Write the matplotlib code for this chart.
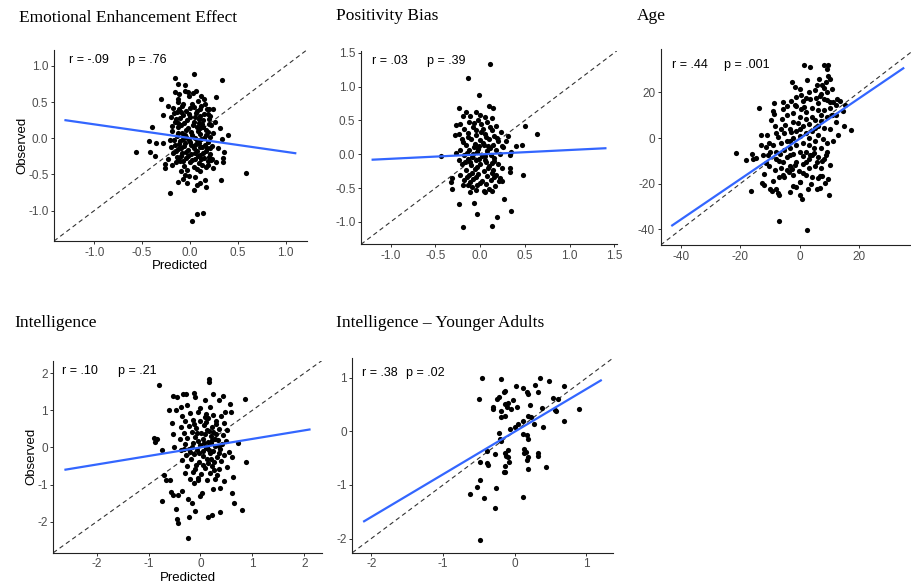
import numpy as np
import matplotlib.pyplot as plt

plt.rcParams['font.family'] = ['Liberation Sans', 'DejaVu Sans']
plt.rcParams['axes.unicode_minus'] = False

# predicted vs observed
eee_points = [
    (0.04, 0.89), (-0.16, 0.83), (0.34, 0.81), (-0.12, 0.75), (-0.05, 0.74),
    (-0.16, 0.64), (-0.05, 0.65), (-0.02, 0.64), (0.06, 0.65), (-0.11, 0.61), (-0.12, 0.55),
    (-0.30, 0.55), (0.15, 0.54), (0.27, 0.57), (-0.23, 0.45), (0.20, 0.40), (0.24, 0.40),
    (-0.28, 0.32), (-0.40, 0.16), (0.26, 0.23), (0.31, 0.14), (0.40, 0.04), (-0.43, -0.04),
    (-0.56, -0.19), (-0.42, -0.19), (-0.35, -0.07), (-0.36, -0.24), (-0.28, -0.06),
    (-0.26, -0.35), (-0.26, -0.41), (-0.23, -0.29), (-0.19, -0.37), (-0.12, -0.60),
    (-0.07, -0.56), (-0.03, -0.62), (0.05, -0.53), (0.04, -0.72), (0.07, -0.65), (0.11, -0.62),
    (0.16, -0.58), (0.17, -0.67), (0.24, -0.41), (0.27, -0.33), (0.35, -0.33), (0.35, -0.27),
    (0.36, -0.19), (0.32, -0.58), (0.59, -0.48), (-0.21, -0.75), (0.02, -1.14), (0.07, -1.05),
    (0.14, -1.03), (-0.09, -0.45), (-0.05, -0.51), (0.19, -0.37), (0.23, -0.29), (0.21, -0.14),
    (0.29, -0.13), (0.33, -0.01),
    (-0.18, 0.42), (-0.08, 0.45), (0.02, 0.48), (0.12, 0.44), (0.18, 0.40),
    (-0.14, 0.36), (-0.04, 0.38), (0.06, 0.35), (0.15, 0.33), (-0.20, 0.30),
    (-0.10, 0.28), (0.00, 0.30), (0.09, 0.27), (0.20, 0.26), (-0.16, 0.22),
    (-0.06, 0.21), (0.04, 0.23), (0.13, 0.20), (0.22, 0.18), (-0.12, 0.15),
    (-0.02, 0.14), (0.07, 0.16), (0.17, 0.12), (-0.19, 0.10), (-0.08, 0.08),
    (0.01, 0.09), (0.11, 0.06), (0.24, 0.07), (-0.14, 0.03), (-0.04, 0.02),
    (0.05, 0.01), (0.15, 0.00), (-0.21, -0.02), (-0.10, -0.04), (0.00, -0.05),
    (0.09, -0.06), (0.19, -0.05), (-0.16, -0.09), (-0.06, -0.10), (0.03, -0.11),
    (0.13, -0.12), (0.23, -0.10), (-0.12, -0.15), (-0.02, -0.16), (0.07, -0.17),
    (0.17, -0.18), (-0.18, -0.20), (-0.08, -0.21), (0.01, -0.22), (0.11, -0.23),
    (0.21, -0.22), (-0.14, -0.26), (-0.04, -0.27), (0.05, -0.28), (0.15, -0.27),
    (-0.10, -0.32), (0.00, -0.33), (0.09, -0.34), (0.19, -0.31), (-0.06, -0.38),
    (0.04, -0.39), (0.13, -0.37), (-0.13, 0.50), (0.08, 0.52), (-0.01, 0.58),
    (0.10, 0.40), (-0.03, 0.25), (0.14, 0.25), (-0.09, 0.18), (0.03, 0.18),
    (0.08, 0.10), (-0.05, 0.05), (0.12, -0.01), (-0.01, -0.02), (0.06, -0.08),
    (-0.09, -0.14), (0.04, -0.14), (0.14, -0.21), (-0.02, -0.24), (0.08, -0.25),
    (-0.07, 0.32), (0.17, 0.05), (-0.12, -0.28), (0.00, 0.42), (0.10, 0.14),
    (-0.17, 0.35), (-0.11, 0.40), (0.04, 0.43), (0.16, 0.47), (-0.07, 0.48),
    (0.19, 0.34), (-0.15, 0.27), (0.05, 0.29), (0.11, 0.31), (-0.01, 0.34),
    (-0.19, 0.17), (-0.04, 0.12), (0.20, 0.20), (0.14, 0.16), (-0.13, 0.07),
    (0.02, 0.05), (0.21, 0.02), (-0.17, -0.03), (0.07, -0.02), (-0.05, -0.06),
    (0.16, -0.09), (-0.20, -0.12), (0.10, -0.12), (-0.04, -0.19), (0.18, -0.14),
    (-0.15, -0.17), (0.05, -0.20), (-0.09, -0.24), (0.12, -0.29), (0.02, -0.30),
    (-0.15, -0.33), (0.07, -0.42), (-0.03, -0.44), (0.17, -0.40), (0.22, -0.30),
    (0.03, 0.62), (0.12, 0.58), (-0.09, 0.36), (0.07, 0.38), (0.21, 0.31),
    (-0.13, 0.21), (0.09, 0.21), (-0.07, -0.01), (0.19, 0.09), (-0.11, -0.08),
    (0.01, -0.09), (0.20, -0.26), (-0.07, -0.31), (0.10, -0.45), (-0.01, -0.52),
]

pos_points = [
    (0.11, 1.34), (-0.13, 1.13), (-0.01, 0.87), (0.10, 0.72), (0.14, 0.68),
    (-0.24, 0.68), (-0.16, 0.63), (-0.05, 0.63), (0.00, 0.58), (0.06, 0.55), (0.13, 0.54),
    (-0.19, 0.56), (-0.28, 0.29), (-0.27, 0.43), (0.31, 0.27), (0.50, 0.42), (0.64, 0.30),
    (0.40, 0.12), (0.47, 0.14), (0.33, -0.01), (0.35, 0.03), (0.26, 0.11), (0.29, 0.20),
    (-0.44, -0.03), (-0.27, 0.02), (0.48, -0.30), (0.33, -0.21), (0.33, -0.26),
    (-0.31, -0.35), (-0.33, -0.41), (-0.31, -0.51), (-0.24, -0.73), (-0.07, -0.72),
    (0.27, -0.66), (0.34, -0.84), (-0.03, -0.88), (0.19, -0.92), (-0.19, -1.08), (0.13, -1.06),
    (-0.11, -0.56), (0.04, -0.55), (0.10, -0.51), (0.13, -0.54), (-0.19, -0.45), (-0.09, -0.49),
    (0.22, -0.35), (0.25, -0.40),
    (-0.22, 0.45), (-0.12, 0.48), (-0.02, 0.50), (0.08, 0.47), (0.18, 0.42),
    (-0.18, 0.38), (-0.08, 0.40), (0.03, 0.38), (0.13, 0.36), (0.23, 0.33),
    (-0.24, 0.30), (-0.14, 0.31), (-0.04, 0.29), (0.06, 0.30), (0.16, 0.27),
    (-0.20, 0.22), (-0.10, 0.23), (0.00, 0.21), (0.10, 0.22), (0.20, 0.19),
    (-0.16, 0.14), (-0.06, 0.15), (0.04, 0.13), (0.14, 0.14), (0.24, 0.12),
    (-0.22, 0.07), (-0.12, 0.06), (-0.02, 0.08), (0.08, 0.05), (0.18, 0.06),
    (-0.18, -0.01), (-0.08, 0.00), (0.02, -0.02), (0.12, -0.01), (0.22, 0.01),
    (-0.24, -0.08), (-0.14, -0.07), (-0.04, -0.09), (0.06, -0.08), (0.16, -0.10),
    (-0.20, -0.15), (-0.10, -0.16), (0.00, -0.14), (0.10, -0.17), (0.20, -0.15),
    (-0.16, -0.23), (-0.06, -0.22), (0.04, -0.24), (0.14, -0.23), (0.24, -0.21),
    (-0.22, -0.30), (-0.12, -0.31), (-0.02, -0.29), (0.08, -0.32), (0.18, -0.30),
    (-0.18, -0.38), (-0.08, -0.37), (0.02, -0.39), (0.12, -0.38), (-0.13, -0.45),
    (-0.03, -0.46), (0.07, -0.44), (0.17, -0.47), (-0.05, -0.53), (0.05, -0.56),
    (-0.11, 0.56), (0.01, 0.44), (-0.15, 0.02), (0.09, 0.12), (-0.03, 0.03),
    (0.05, -0.03), (-0.09, -0.04), (0.11, 0.09), (-0.01, -0.07), (0.03, 0.16),
    (-0.07, 0.11), (0.15, -0.05), (-0.11, -0.11), (0.07, -0.12), (-0.03, -0.19),
    (0.13, -0.28), (-0.09, -0.27), (0.01, 0.33), (-0.05, 0.36), (0.19, 0.24),
    (-0.19, 0.18), (0.09, -0.20), (-0.15, -0.34), (0.21, -0.39), (0.00, -0.42),
    (-0.07, 0.46), (0.11, 0.41), (-0.13, 0.26), (0.07, 0.26), (-0.01, 0.12),
    (-0.17, -0.11), (0.13, -0.13), (-0.05, -0.33), (0.15, -0.34), (-0.11, -0.41),
]

age_points = [
    (1.4, 31.9), (3.4, 31.0), (8.1, 31.9), (9.2, 30.4), (9.7, 31.9),
    (-2.7, 24.6), (2.5, 25.4), (6.5, 25.7), (7.4, 23.4), (5.9, 23.1),
    (9.7, 27.2), (10.1, 25.7), (9.0, 24.6), (0.2, 21.6), (-13.7, 13.1),
    (-8.6, 15.2), (-9.0, 12.0), (-8.8, 10.7), (-5.6, 15.8), (-5.6, 12.9),
    (-2.9, 16.4), (-1.6, 14.3), (0.5, 18.7), (2.0, 17.6), (3.4, 17.3), (5.6, 17.6), (6.8, 18.4),
    (9.2, 16.7), (10.1, 15.8), (11.3, 15.8), (12.4, 14.3), (13.7, 16.1), (15.3, 14.3),
    (12.6, 17.3), (11.0, 9.9), (12.4, 10.2), (15.0, 5.2), (17.2, 3.7), (14.5, 12.0), (12.8, 1.2),
    (-21.4, -6.4), (-18.0, -9.6), (-16.2, -7.0), (-15.8, -9.1), (-14.6, -8.8),
    (-13.1, 1.2), (-13.1, -3.2), (-12.4, -7.6), (-11.3, -4.1), (-10.8, -7.6),
    (-16.4, -23.4), (-12.8, -19.9), (-11.9, -20.5), (-9.9, -22.2), (-9.2, -23.1),
    (-7.9, -22.2), (-7.4, -24.0), (-6.8, -25.1), (-9.0, -19.0), (-7.0, -17.3), (-5.6, -16.4),
    (-3.4, -23.7), (-2.3, -21.1), (0.0, -25.1), (0.7, -26.9), (-1.1, -21.6), (0.2, -19.3),
    (-3.6, -14.9), (-2.7, -13.5), (-1.6, -12.0), (2.7, -22.5), (5.9, -22.2), (6.8, -21.9),
    (6.3, -17.5), (6.8, -16.7), (7.7, -16.7), (9.7, -18.1), (9.9, -25.1),
    (-7.0, -36.2), (2.5, -40.3),
    (5.0, -6.4), (5.9, -10.5), (7.4, -10.2), (9.0, -7.6), (10.1, -12.0),
    (3.4, -7.6), (2.3, -10.5), (-10.1, -6.1), (-7.9, -9.1), (-5.6, -10.5), (-3.4, -7.6),
    (-8.2, 5.3), (-6.1, 8.4), (-4.3, 10.2), (-2.2, 7.1), (0.3, 9.4), (2.1, 11.3),
    (4.2, 13.1), (6.3, 15.2), (8.1, 12.4), (-7.2, 0.3), (-5.1, 2.2), (-3.3, 4.1),
    (-1.2, 3.2), (1.1, 5.3), (3.2, 6.2), (5.3, 8.1), (7.1, 7.3), (9.2, 9.1),
    (-9.1, -3.2), (-6.2, -2.1), (-4.1, -1.3), (-2.3, 0.2), (0.2, 1.1), (2.2, 2.3),
    (4.1, 3.2), (6.2, 1.4), (8.3, 4.2), (-8.1, -6.3), (-5.2, -5.1), (-3.1, -4.2),
    (-1.3, -3.1), (1.2, -2.2), (3.3, -3.1), (5.1, -1.2), (7.2, -4.3), (9.1, -2.2),
    (-7.1, -10.2), (-4.2, -8.3), (-2.1, -7.2), (0.1, -6.1), (2.3, -6.2), (4.2, -7.3),
    (6.1, -8.2), (8.2, -9.1), (-6.3, -13.2), (-3.2, -12.1), (-1.1, -10.3), (1.3, -11.2),
    (3.1, -13.3), (5.2, -12.2), (7.3, -13.1), (-5.1, -17.2), (-2.2, -16.1), (1.1, -15.3),
    (4.3, -17.1), (-1.2, 14.1), (1.2, 16.2), (3.3, 20.1), (5.1, 21.2), (7.2, 19.3),
    (9.3, 20.2), (8.1, 17.1), (10.2, 13.3), (11.1, 10.2), (12.2, 7.1), (6.1, 5.2),
    (10.3, 4.1), (11.2, -1.1), (9.3, -6.2), (-10.2, -12.1), (-8.3, -14.2), (0.1, -19.2),
    (2.2, -16.3), (-4.1, 14.2), (-6.2, 4.1), (-8.1, 2.2), (-11.1, 1.3), (-10.2, -2.1),
    (-1.1, 18.2), (2.1, 8.2), (0.2, 4.1), (-3.2, -1.1), (3.1, 0.2), (5.2, 4.3),
    (7.1, 10.2), (-2.1, 11.1), (4.2, 9.3), (6.2, 12.1), (8.2, 22.1), (-4.2, -14.1),
    (1.2, -8.1), (3.2, -9.2), (-0.5, 6.5), (1.5, 13.5), (-2.8, 2.6), (4.8, -4.5),
    (-11.5, -11.0), (-9.6, 7.8), (-6.6, -6.8), (-0.3, -14.5), (3.8, -20.2), (7.8, -0.6),
    (-1.7, 22.4), (10.9, 21.5), (-12.0, -15.6), (8.6, -19.8), (-4.8, 5.9), (0.6, 12.8),
]

iq_points = [
    (0.16, 1.84), (0.17, 1.75), (-0.79, 1.68), (-0.53, 1.39), (-0.45, 1.36),
    (-0.33, 1.43), (-0.27, 1.45), (-0.13, 1.46), (-0.11, 1.36), (0.08, 1.29),
    (0.24, 1.43), (0.43, 1.39), (0.35, 1.29), (0.85, 1.30), (-0.61, 1.00),
    (-0.47, 1.02), (-0.38, 1.10), (-0.55, 0.66), (0.56, 1.18), (0.58, 0.95),
    (-0.90, 0.25), (-0.88, 0.16), (-0.83, 0.23), (-0.75, -0.07), (-0.52, 0.37),
    (-0.51, 0.02), (0.88, -0.39), (0.72, 0.12), (0.61, -0.27), (0.63, -0.79),
    (-0.71, -0.73), (-0.67, -0.88), (-0.58, -0.89), (-0.57, -1.20), (-0.52, -1.29),
    (-0.43, -1.27), (-0.35, -1.16), (-0.74, -1.45), (-0.24, -1.38), (-0.17, -1.50),
    (-0.47, -1.66), (-0.46, -1.93), (-0.43, -2.04), (-0.24, -2.45), (-0.22, -1.88),
    (-0.11, -1.70), (0.15, -1.86), (0.22, -1.81), (0.38, -1.75), (0.64, -1.50),
    (0.80, -1.68), (0.60, -1.23), (0.37, -1.09), (0.25, -1.13), (-0.01, -1.32),
    (0.03, -1.22), (-0.12, -0.97), (-0.04, -0.88),
    (-0.35, 0.85), (-0.20, 0.92), (-0.05, 0.95), (0.10, 0.90), (0.25, 0.88), (0.40, 0.84),
    (-0.30, 0.70), (-0.15, 0.75), (0.00, 0.72), (0.15, 0.78), (0.30, 0.70), (0.45, 0.66),
    (-0.38, 0.55), (-0.22, 0.58), (-0.08, 0.52), (0.07, 0.60), (0.22, 0.55), (0.36, 0.50),
    (0.52, 0.48), (-0.32, 0.38), (-0.16, 0.42), (0.02, 0.40), (0.16, 0.45), (0.30, 0.36),
    (0.44, 0.33), (-0.40, 0.22), (-0.25, 0.25), (-0.10, 0.28), (0.05, 0.22), (0.20, 0.30),
    (0.34, 0.20), (0.50, 0.18), (-0.30, 0.08), (-0.14, 0.12), (0.00, 0.06), (0.14, 0.15),
    (0.28, 0.05), (0.42, 0.08), (-0.38, -0.06), (-0.22, -0.04), (-0.06, -0.08), (0.10, -0.02),
    (0.24, -0.10), (0.38, -0.05), (0.55, -0.12), (-0.28, -0.20), (-0.12, -0.18), (0.04, -0.22),
    (0.18, -0.16), (0.32, -0.25), (0.46, -0.20), (-0.35, -0.35), (-0.18, -0.32), (-0.02, -0.38),
    (0.12, -0.30), (0.26, -0.40), (0.40, -0.36), (-0.25, -0.50), (-0.08, -0.48), (0.08, -0.55),
    (0.22, -0.50), (0.36, -0.58), (0.52, -0.52), (-0.30, -0.68), (-0.14, -0.65), (0.02, -0.72),
    (0.18, -0.68), (0.32, -0.75), (-0.20, -0.85), (-0.04, -0.82), (0.12, -0.88), (0.28, -0.85),
    (0.45, -0.90), (0.08, 0.35), (0.12, 0.48), (0.20, 0.12), (-0.04, 0.18), (0.25, 0.42),
    (0.05, -0.10), (-0.16, 0.02), (0.15, -0.42), (-0.10, -0.58), (0.35, -0.15), (0.00, 1.05),
    (0.18, 1.10), (-0.25, 1.15), (0.48, 0.95), (0.28, 0.22), (0.10, 0.68), (-0.06, 0.38),
    (0.16, -0.06), (0.30, 0.62),
    (0.06, 0.12), (0.22, 0.20), (0.12, 0.02), (-0.02, -0.16), (0.20, -0.30), (0.08, 0.82),
    (-0.12, 0.62), (0.36, 0.05), (-0.20, -0.12), (0.04, -0.46), (0.26, -0.62), (-0.32, -0.05),
]

iq_young_points = [
    (-0.45, 1.00), (-0.19, 0.98), (-0.50, 0.61), (0.02, 0.84), (0.11, 0.82),
    (0.28, 0.87), (0.35, 0.99), (0.48, 0.94), (0.68, 0.85), (-0.14, 0.75),
    (-0.15, 0.74), (-0.22, 0.64), (-0.25, 0.61), (-0.30, 0.45), (-0.31, 0.41),
    (-0.19, 0.39), (-0.13, 0.51), (-0.11, 0.45), (-0.09, 0.54), (-0.02, 0.59),
    (0.03, 0.46), (-0.05, 0.42), (0.17, 0.73), (0.19, 0.70), (0.21, 0.50),
    (0.33, 0.74), (0.38, 0.44), (0.54, 0.63), (0.61, 0.60), (0.56, 0.40),
    (0.58, 0.38), (0.90, 0.41), (0.68, 0.19), (0.27, 0.14), (0.40, 0.09),
    (0.19, 0.28), (0.23, 0.27), (0.11, 0.20), (-0.19, 0.27), (-0.14, 0.28),
    (-0.07, 0.05), (0.01, 0.08), (0.04, 0.13), (0.12, -0.04), (0.17, -0.06),
    (0.19, -0.14), (-0.22, -0.03), (-0.20, -0.14), (-0.27, -0.42), (-0.38, -0.36),
    (-0.38, -0.59), (-0.37, -0.62), (-0.48, -0.58), (-0.14, -0.41), (-0.12, -0.45),
    (-0.09, -0.48), (-0.13, -0.65), (-0.15, -0.75), (-0.13, -0.76), (-0.09, -0.34),
    (-0.08, -0.57), (0.13, -0.32), (0.13, -0.40), (0.16, -0.39), (0.18, -0.48),
    (0.17, -0.54), (0.19, -0.70), (0.32, -0.41), (0.33, -0.45), (0.44, -0.67),
    (-0.63, -1.16), (-0.52, -1.03), (-0.48, -0.91), (-0.43, -1.24), (-0.26, -1.06),
    (-0.27, -1.43), (0.12, -1.22), (-0.49, -2.03), (-0.19, -0.17),
]

panel_points = [eee_points, pos_points, age_points, iq_points, iq_young_points]
panel_titles = ['Emotional Enhancement Effect', 'Positivity Bias', 'Age',
                'Intelligence', 'Intelligence \u2013 Younger Adults']
panel_r = ['r = -.09', 'r = .03', 'r = .44', 'r = .10', 'r = .38']
panel_p = ['p = .76', 'p = .39', 'p = .001', 'p = .21', 'p = .02']
fit_slope = [-0.19, 0.065, 0.883, 0.23, 0.797]
fit_intercept = [0.003, -0.002, -0.34, 0.0, -0.004]
scale_lims = [(-1.3, 1.1), (-1.2, 1.4), (-43, 35), (-2.6, 2.1), (-2.1, 1.2)]
panel_ticks = [[-1.0, -0.5, 0.0, 0.5, 1.0], [-1.0, -0.5, 0.0, 0.5, 1.0, 1.5],
               [-40, -20, 0, 20], [-2, -1, 0, 1, 2], [-2, -1, 0, 1]]
tick_fmt = ['{:.1f}', '{:.1f}', '{:.0f}', '{:.0f}', '{:.0f}']

# layout (figure fractions)
axes_rects = [
    [0.0593, 0.5887, 0.2774, 0.3259],
    [0.3963, 0.5831, 0.2810, 0.3304],
    [0.7252, 0.5819, 0.2790, 0.3340],
    [0.0585, 0.0568, 0.2946, 0.3276],
    [0.3867, 0.0568, 0.2858, 0.3317],
]
title_pos = [(0.0209, 0.970), (0.3688, 0.972), (0.6989, 0.972), (0.0154, 0.448), (0.3688, 0.448)]
r_pos = [0.059, 0.042, 0.044, 0.034, 0.036]
p_pos = [0.293, 0.257, 0.251, 0.242, 0.206]
txt_y = [0.948, 0.948, 0.92, 0.946, 0.926]
show_labels = [True, False, False, True, False]

fig = plt.figure(figsize=(9.11, 5.86), dpi=100)

for i in range(5):
    ax = fig.add_axes(axes_rects[i])
    pts = np.array(panel_points[i])
    lo, hi = scale_lims[i]
    pad = 0.05 * (hi - lo)
    ax.set_xlim(lo - pad, hi + pad)
    ax.set_ylim(lo - pad, hi + pad)

    # identity line
    ax.plot([lo - pad, hi + pad], [lo - pad, hi + pad], color='#333333',
            lw=0.8, dashes=(4, 3), zorder=1)
    ax.scatter(pts[:, 0], pts[:, 1], s=14, color='black', linewidths=0, zorder=2)
    xs = np.array([lo, hi])
    ax.plot(xs, fit_intercept[i] + fit_slope[i] * xs, color='#3366FF', lw=1.6, zorder=3)

    ax.set_xticks(panel_ticks[i])
    ax.set_yticks(panel_ticks[i])
    ax.set_xticklabels([tick_fmt[i].format(t) for t in panel_ticks[i]])
    ax.set_yticklabels([tick_fmt[i].format(t) for t in panel_ticks[i]])
    ax.tick_params(labelsize=8.5, labelcolor='#4d4d4d', color='#333333',
                   length=2.5, width=0.7, pad=1.5)
    for s in ['top', 'right']:
        ax.spines[s].set_visible(False)
    for s in ['left', 'bottom']:
        ax.spines[s].set_linewidth(0.8)
        ax.spines[s].set_color('#222222')

    if show_labels[i]:
        ax.set_xlabel('Predicted', fontsize=9.5, labelpad=1)
        ax.set_ylabel('Observed', fontsize=9.5, labelpad=0)

    ax.text(r_pos[i], txt_y[i], panel_r[i], transform=ax.transAxes,
            fontsize=9, va='center', ha='left')
    ax.text(p_pos[i], txt_y[i], panel_p[i], transform=ax.transAxes,
            fontsize=9, va='center', ha='left')

    fig.text(title_pos[i][0], title_pos[i][1], panel_titles[i],
             family=['Liberation Serif', 'DejaVu Serif'], fontsize=12.5,
             va='center', ha='left')

fig.savefig('out.png', dpi=100)
